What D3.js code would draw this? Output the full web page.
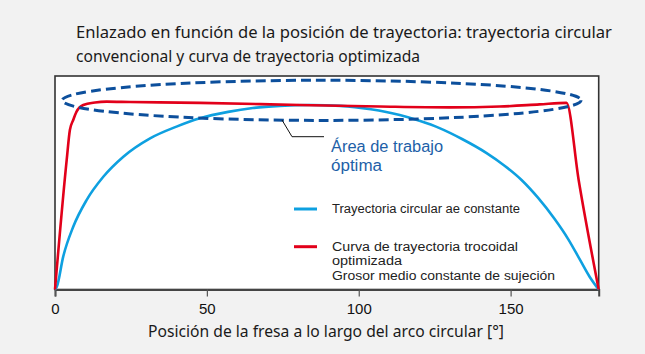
<!DOCTYPE html>
<html>
<head>
<meta charset="utf-8">
<script src="https://cdn.jsdelivr.net/npm/d3@7"></script>
<style>
	body { margin: 0; background: #f2f2f2; }
	svg { display: block; font-family: "Noto Sans", "DejaVu Sans", sans-serif; }
</style>
</head>
<body>
<div id="chart"></div>
<script>

// title lines of the chart
var titleLines = [
	"Enlazado en función de la posición de trayectoria: trayectoria circular",
	"convencional y curva de trayectoria optimizada"
];

// x axis ticks and label
var xTicks = [0, 50, 100, 150];
var xLabel = "Posición de la fresa a lo largo del arco circular [°]";

// circular path with constant ae (degrees, engagement)
var circDeg = [0, 0.6, 2.7, 6.0, 10.4, 15.9, 22.5, 31.3, 40.0, 47.7, 57, 65.1, 74, 83.9, 94, 104, 113.5, 120, 126.6, 134, 142.1, 148, 153.6, 159, 164.5, 169, 173, 176, 179];
var circVal = [0, 1.3, 15.4, 29.4, 41.9, 52.8, 62.2, 70.8, 76.3, 80.2, 83.2, 85.0, 86.0, 86.4, 86.0, 84.4, 81.7, 79.0, 75.6, 70.5, 63.9, 58.0, 51.3, 43.0, 33.0, 23.5, 13.5, 6.0, 0];

// optimized trochoidal path (degrees, engagement)
var trocDeg = [0, 3.85, 4.9, 6.0, 7.1, 9.3, 13.2, 17.0, 24.7, 47.7, 80.6, 106.9, 129.9, 146.4, 159.5, 168.4, 172.4, 179];
var trocVal = [0, 60.7, 74.7, 79.4, 83.3, 86.4, 87.6, 88.0, 87.8, 87.4, 86.4, 85.7, 85.3, 85.7, 86.7, 87.4, 51.3, 0];

// legend entries
var legendNames = [
	["Trayectoria circular ae constante"],
	["Curva de trayectoria trocoidal", "optimizada", "Grosor medio constante de sujeción"]
];
var legendColors = ["#0ea0e0", "#e2001a"];

// annotation text
var noteLines = ["Área de trabajo", "óptima"];

var width = 645, height = 354;
var tightFont = "'Liberation Sans Narrow', 'Liberation Sans', Arial, sans-serif";

var svg = d3.select("#chart").append("svg")
	.attr("width", width)
	.attr("height", height);

// scales
var x = d3.scaleLinear().domain([0, 179]).range([55, 598.7]);
var y = d3.scaleLinear().domain([0, 100]).range([289.5, 76]);

// plot background
svg.append("rect")
	.attr("x", x(0))
	.attr("y", y(100))
	.attr("width", x(179) - x(0))
	.attr("height", y(0) - y(100))
	.attr("fill", "#fff")
	.attr("stroke", "#333")
	.attr("stroke-width", 1.6);

// title
svg.selectAll("text.title")
	.data(titleLines)
	.enter().append("text")
	.attr("class", "title")
	.attr("x", 76)
	.attr("y", function (d, i) { return 38 + i * 24; })
	.attr("font-size", 15.5)
	.attr("fill", "#1a1a1a")
	.attr("textLength", function (d, i) { return i === 0 ? 536 : 344; })
	.attr("lengthAdjust", "spacingAndGlyphs")
	.text(function (d) { return d; });

// x axis
var xAxis = svg.append("g")
	.attr("transform", "translate(0," + y(0) + ")")
	.call(d3.axisBottom(x).tickValues(xTicks).tickSize(7).tickPadding(7));
xAxis.select(".domain").attr("stroke", "#444").attr("stroke-width", 2);
xAxis.selectAll(".tick line").attr("stroke", "#555").attr("stroke-width", 1.2);
xAxis.selectAll(".tick text")
	.attr("font-family", "Liberation Sans, Arial, sans-serif")
	.attr("font-size", 15)
	.attr("fill", "#111");

svg.append("text")
	.attr("x", 326)
	.attr("y", 337)
	.attr("text-anchor", "middle")
	.attr("font-size", 16)
	.attr("fill", "#1a1a1a")
	.attr("textLength", 356)
	.attr("lengthAdjust", "spacingAndGlyphs")
	.text(xLabel);

// curves
var line = d3.line()
	.x(function (d) { return x(d[0]); })
	.y(function (d) { return y(d[1]); })
	.curve(d3.curveMonotoneX);

svg.append("path")
	.datum(d3.zip(circDeg, circVal))
	.attr("d", line)
	.attr("fill", "none")
	.attr("stroke", legendColors[0])
	.attr("stroke-width", 2.6);

svg.append("path")
	.datum(d3.zip(trocDeg, trocVal))
	.attr("d", line)
	.attr("fill", "none")
	.attr("stroke", legendColors[1])
	.attr("stroke-width", 2.6);

// dashed ellipse marking the optimal working area
svg.append("ellipse")
	.attr("cx", x(87.8))
	.attr("cy", y(88.6))
	.attr("rx", x(85.4) - x(0))
	.attr("ry", y(0) - y(9.4))
	.attr("fill", "none")
	.attr("stroke", "#0c4f9c")
	.attr("stroke-width", 3)
	.attr("stroke-dasharray", "10,5");

// leader line to the annotation
svg.append("polyline")
	.attr("points", "282,120 292,136.7 324,136.7")
	.attr("fill", "none")
	.attr("stroke", "#111")
	.attr("stroke-width", 1);

svg.selectAll("text.note")
	.data(noteLines)
	.enter().append("text")
	.attr("class", "note")
	.attr("x", 331)
	.attr("y", function (d, i) { return 152 + i * 18.5; })
	.attr("font-family", tightFont)
	.attr("font-size", 16)
	.attr("fill", "#1e5fa8")
	.attr("textLength", function (d, i) { return i === 0 ? 112 : 51; })
	.attr("lengthAdjust", "spacingAndGlyphs")
	.text(function (d) { return d; });

// legend
var legendY = [209, 246.7];
var legendLens = [[188], [186, 70, 223]];
var lg = svg.selectAll("g.legend")
	.data(legendNames)
	.enter().append("g")
	.attr("class", "legend");

lg.append("line")
	.attr("x1", 294)
	.attr("x2", 317)
	.attr("y1", function (d, i) { return legendY[i]; })
	.attr("y2", function (d, i) { return legendY[i]; })
	.attr("stroke", function (d, i) { return legendColors[i]; })
	.attr("stroke-width", 3);

lg.each(function (d, i) {
	d3.select(this).selectAll("text")
		.data(d)
		.enter().append("text")
		.attr("x", 332)
		.attr("y", function (t, j) { return legendY[i] + 4 + j * 14.5; })
		.attr("font-family", tightFont)
		.attr("font-size", 12.5)
		.attr("fill", "#222")
		.attr("textLength", function (t, j) { return legendLens[i][j]; })
		.attr("lengthAdjust", "spacingAndGlyphs")
		.text(function (t) { return t; });
});

</script>
</body>
</html>
